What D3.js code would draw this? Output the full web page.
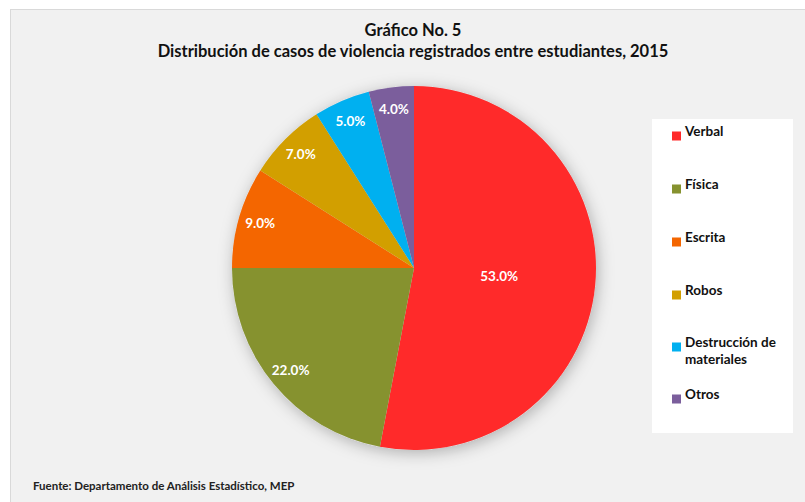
<!DOCTYPE html>
<html>
<head>
<meta charset="utf-8">
<script src="https://cdn.jsdelivr.net/npm/d3@7"></script>
<style>
    body { margin: 0; background: #ffffff; }
    text { font-family: Lato, "Open Sans", sans-serif; }
</style>
</head>
<body>
<div id="graph"></div>
<script>
/*
    Pie chart: casos de violencia entre estudiantes, 2015
*/

// Data
var categories = ["Verbal", "Física", "Escrita", "Robos", "Destrucción de materiales", "Otros"]
var values = [53.0, 22.0, 9.0, 7.0, 5.0, 4.0]
var legendLines = [["Verbal"], ["Física"], ["Escrita"], ["Robos"], ["Destrucción de", "materiales"], ["Otros"]]
var colors = ["#ff2a2a", "#86922f", "#f46600", "#d29f00", "#00b0f0", "#7b5e9c"]
var titleLines = ["Gráfico No. 5", "Distribución de casos de violencia registrados entre estudiantes, 2015"]
var source = "Fuente: Departamento de Análisis Estadístico, MEP"

var data = categories.map(function (c, i) {
    return { "name": c, "value": values[i], "lines": legendLines[i], "color": colors[i] }
})

var W = 805, H = 502

var svg = d3.select("#graph").append("svg")
    .attr("width", W)
    .attr("height", H)

// shadow under the pie
var defs = svg.append("defs")
defs.append("filter")
    .attr("id", "shadow")
    .attr("x", "-20%").attr("y", "-20%")
    .attr("width", "140%").attr("height", "140%")
    .append("feDropShadow")
    .attr("dx", 2).attr("dy", 3)
    .attr("stdDeviation", 8)
    .attr("flood-color", "#000")
    .attr("flood-opacity", 0.28)

// chart area
svg.append("rect")
    .attr("x", 10.5).attr("y", 9.5)
    .attr("width", W).attr("height", H)
    .attr("fill", "#f1f1f1")
    .attr("stroke", "#d9d9d9")

// title
svg.append("g").selectAll("text")
    .data(titleLines)
    .enter().append("text")
    .attr("x", 413)
    .attr("y", function (d, i) { return 36 + i * 21 })
    .attr("text-anchor", "middle")
    .style("font-size", "16.5px")
    .style("font-weight", "bold")
    .attr("fill", "#111")
    .text(function (d) { return d })

// pie
var cx = 414, cy = 268, radius = 182

var pie = d3.pie()
    .sort(null)
    .value(function (d) { return d.value })

var arc = d3.arc().innerRadius(0).outerRadius(radius)
var labelArcOuter = d3.arc().innerRadius(radius * 0.88).outerRadius(radius * 0.88)
var labelArcInner = d3.arc().innerRadius(radius * 0.47).outerRadius(radius * 0.47)

var total = d3.sum(values)

var g = svg.append("g")
    .attr("transform", "translate(" + cx + "," + cy + ")")

g.append("circle")
    .attr("r", radius)
    .attr("fill", "#ddd")
    .attr("filter", "url(#shadow)")

g.selectAll("path.slice")
    .data(pie(data))
    .enter().append("path")
    .attr("class", "slice")
    .attr("d", arc)
    .attr("fill", function (d) { return d.data.color })

g.selectAll("text.label")
    .data(pie(data))
    .enter().append("text")
    .attr("class", "label")
    .attr("transform", function (d) {
        var a = d.data.value / total > 0.5 ? labelArcInner : labelArcOuter
        return "translate(" + a.centroid(d) + ")"
    })
    .attr("text-anchor", "middle")
    .attr("dy", "0.35em")
    .style("font-size", "13.5px")
    .style("font-weight", "bold")
    .attr("fill", "#ffffff")
    .text(function (d) { return d.data.value.toFixed(1) + "%" })

// legend
var legend = svg.append("g")
legend.append("rect")
    .attr("x", 652).attr("y", 119)
    .attr("width", 141).attr("height", 314)
    .attr("fill", "#ffffff")

var legendY = [136, 189, 242, 295, 347, 399]

var items = legend.selectAll("g.item")
    .data(data)
    .enter().append("g")
    .attr("class", "item")
    .attr("transform", function (d, i) { return "translate(672," + legendY[i] + ")" })

items.append("rect")
    .attr("x", 0).attr("y", -4.5)
    .attr("width", 9).attr("height", 9)
    .attr("fill", function (d) { return d.color })

items.append("text")
    .attr("x", 13)
    .attr("dy", "0.35em")
    .style("font-size", "13.5px")
    .style("font-weight", "bold")
    .attr("fill", "#111")
    .selectAll("tspan")
    .data(function (d) { return d.lines })
    .enter().append("tspan")
    .attr("x", 13)
    .attr("dy", function (d, i) { return i === 0 ? 0 : 17 })
    .text(function (d) { return d })

// source
svg.append("text")
    .attr("x", 33)
    .attr("y", 490)
    .style("font-size", "11.5px")
    .style("font-weight", "bold")
    .attr("fill", "#222")
    .text(source)
</script>
</body>
</html>
